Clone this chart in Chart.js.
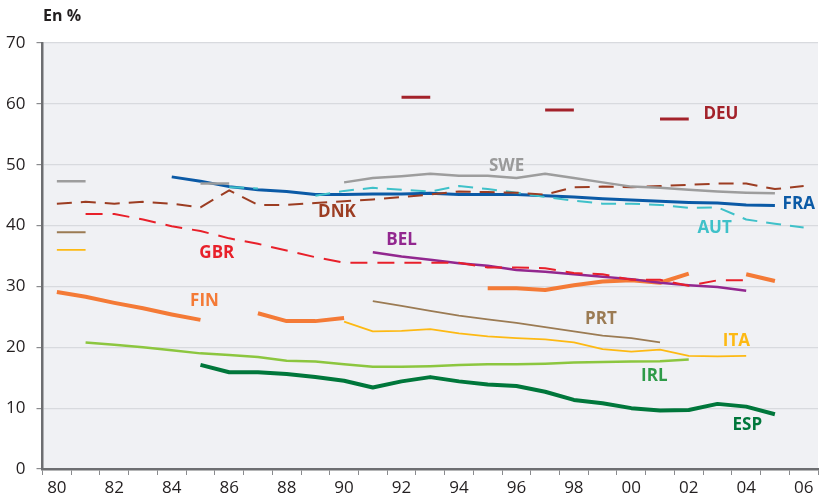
<!DOCTYPE html>
<html>
<head>
<meta charset="utf-8">
<script src="https://cdn.jsdelivr.net/npm/chart.js@4.4.1/dist/chart.umd.min.js"></script>
<style>
  html, body { margin: 0; padding: 0; background: #fff; }
  #wrap { width: 820px; height: 496px; }
</style>
</head>
<body>
<div id="wrap"><canvas id="chart" width="820" height="496"></canvas></div>
<script>
// années 1980-2006
var years = [];
for (var y = 1980; y <= 2006; y++) years.push(String(y).slice(2));

var yTicks = [0, 10, 20, 30, 40, 50, 60, 70];

// séries (null = pas de donnée)
var FIN = [29.1, 28.3, 27.3, 26.4, 25.4, 24.5, null, 25.6, 24.3, 24.3, 24.8, null, null, null, null, 29.7, 29.7, 29.4, 30.2, 30.8, 31.0, 30.6, 32.1, null, 32.0, 30.9, null];
var GBR = [null, 41.9, 41.9, 41.0, 39.9, 39.1, 37.9, 37.0, 35.9, 34.8, 33.9, 33.9, 33.9, 33.9, 33.9, 33.1, 33.1, 33.0, 32.2, 32.0, 31.1, 31.1, 30.1, 31.0, 31.0, null, null];
var DNK = [43.6, 43.9, 43.6, 43.9, 43.6, 43.0, 45.8, 43.4, 43.4, 43.7, 44.0, 44.3, 44.7, 45.1, 45.6, 45.5, 45.4, 45.1, 46.3, 46.4, 46.3, 46.5, 46.7, 46.9, 46.9, 46.0, 46.5];
var SWE = [47.3, 47.3, null, null, null, 46.9, 46.9, null, null, null, 47.1, 47.8, 48.1, 48.5, 48.2, 48.2, 47.8, 48.5, 47.8, 47.1, 46.4, 46.2, 45.9, 45.6, 45.4, 45.3, null];
var FRA = [null, null, null, null, 48.0, 47.3, 46.4, 45.9, 45.6, 45.1, 45.1, 45.2, 45.2, 45.3, 45.1, 45.1, 45.1, 44.9, 44.7, 44.4, 44.2, 44.0, 43.8, 43.7, 43.4, 43.3, null];
var AUT = [null, null, null, null, null, null, 46.3, 46.1, null, 44.9, 45.7, 46.2, 45.9, 45.6, 46.5, 46.0, 45.4, 44.7, 44.1, 43.6, 43.6, 43.4, 42.9, 43.0, 41.0, 40.3, 39.7];
var DEU = [null, null, null, null, null, null, null, null, null, null, null, null, 61.1, 61.1, null, null, null, 59.0, 59.0, null, null, 57.5, 57.5, null, null, null, null];
var BEL = [null, null, null, null, null, null, null, null, null, null, null, 35.6, 34.9, 34.4, 33.8, 33.4, 32.7, 32.4, 32.0, 31.6, 31.2, 30.6, 30.2, 29.9, 29.3, null, null];
var PRT = [38.9, 38.9, null, null, null, null, null, null, null, null, null, 27.6, 26.8, 26.0, 25.2, 24.6, 24.0, 23.3, 22.6, 21.9, 21.5, 20.8, null, null, null, null, null];
var ITA = [36.0, 36.0, null, null, null, null, null, null, null, null, 24.2, 22.6, 22.7, 23.0, 22.3, 21.8, 21.5, 21.3, 20.8, 19.7, 19.3, 19.6, 18.6, 18.5, 18.6, null, null];
var IRL = [null, 20.8, 20.4, 20.0, 19.5, 19.0, 18.75, 18.4, 17.8, 17.65, 17.2, 16.8, 16.8, 16.9, 17.1, 17.2, 17.2, 17.3, 17.5, 17.6, 17.65, 17.7, 18.0, null, null, null, null];
var ESP = [null, null, null, null, null, 17.1, 15.9, 15.9, 15.6, 15.1, 14.5, 13.4, 14.4, 15.1, 14.4, 13.9, 13.65, 12.7, 11.35, 10.8, 10.0, 9.6, 9.7, 10.7, 10.25, 9.0, null];

// étiquettes des pays : [texte, couleur, position x (index année), position y (valeur)]
var seriesLabels = [
  ['SWE', '#9a9a9a', 15.66, 49.8],
  ['DEU', '#a3222a', 23.12, 58.3],
  ['FRA', '#0b5aa6', 25.83, 43.6],
  ['AUT', '#3fc1c9', 22.9, 39.6],
  ['DNK', '#9c3d22', 9.75, 42.2],
  ['BEL', '#92278f', 12.0, 37.6],
  ['GBR', '#e8202a', 5.57, 35.5],
  ['FIN', '#f47a36', 5.14, 27.5],
  ['PRT', '#9b7b53', 18.94, 24.7],
  ['ITA', '#fdb913', 23.66, 21.0],
  ['IRL', '#2e9b48', 20.8, 15.3],
  ['ESP', '#00773b', 24.04, 7.2]
];

var FONT = '"Open Sans", "Noto Sans", sans-serif';

function ds(label, data, color, width, dash) {
  return {
    label: label,
    data: data,
    borderColor: color,
    backgroundColor: color,
    borderWidth: width,
    borderDash: dash || [],
    borderCapStyle: 'butt',
    borderJoinStyle: 'round',
    pointRadius: 0,
    pointHoverRadius: 0,
    tension: 0,
    spanGaps: false,
    fill: false
  };
}

// fond gris de la zone de tracé
var plotBg = {
  id: 'plotBg',
  beforeDraw: function(chart) {
    var a = chart.chartArea, ctx = chart.ctx;
    ctx.save();
    ctx.fillStyle = '#f0f1f4';
    ctx.fillRect(a.left, a.top, a.right - a.left, a.bottom - a.top);
    ctx.restore();
  }
};

// noms des pays et unité
var textLabels = {
  id: 'textLabels',
  afterDatasetsDraw: function(chart) {
    var ctx = chart.ctx, sx = chart.scales.x, sy = chart.scales.y;
    ctx.save();
    ctx.textAlign = 'center';
    ctx.textBaseline = 'middle';
    ctx.font = 'bold 17px ' + FONT;
    seriesLabels.forEach(function(l) {
      ctx.fillStyle = l[1];
      ctx.fillText(l[0], sx.getPixelForValue(l[2]), sy.getPixelForValue(l[3]));
    });
    ctx.textAlign = 'left';
    ctx.fillStyle = '#231f20';
    ctx.font = 'bold 16px ' + FONT;
    ctx.fillText('En %', 43, 16);
    ctx.restore();
  }
};

new Chart(document.getElementById('chart'), {
  type: 'line',
  data: {
    labels: years,
    datasets: [
      ds('SWE', SWE, '#9d9d9d', 2.5),
      ds('DNK', DNK, '#9c3d22', 2, [15, 9]),
      ds('AUT', AUT, '#3fc1c9', 2, [15, 9]),
      ds('FRA', FRA, '#0b5aa6', 3),
      ds('DEU', DEU, '#a3222a', 3),
      ds('GBR', GBR, '#e8202a', 2, [17, 10]),
      ds('BEL', BEL, '#92278f', 2.5),
      ds('FIN', FIN, '#f47a36', 4),
      ds('PRT', PRT, '#9b7b53', 1.8),
      ds('ITA', ITA, '#fdb913', 1.8),
      ds('IRL', IRL, '#8cc63f', 2.5),
      ds('ESP', ESP, '#00773b', 4)
    ]
  },
  options: {
    responsive: false,
    animation: false,
    layout: { padding: { top: 43, right: 2, left: 0, bottom: 0 } },
    plugins: {
      legend: { display: false },
      tooltip: { enabled: false }
    },
    scales: {
      x: {
        type: 'category',
        offset: true,
        grid: {
          offset: true,
          drawOnChartArea: false,
          drawTicks: true,
          tickLength: 6,
          color: '#8a8b8e',
          lineWidth: 1
        },
        border: { color: '#6d6e71', width: 2.5 },
        ticks: {
          autoSkip: false,
          maxRotation: 0,
          padding: 3,
          color: '#231f20',
          font: { family: FONT, size: 17 },
          callback: function(v, i) { return i % 2 === 0 ? years[i] : ''; }
        },
        afterFit: function(s) { s.height = 27; }
      },
      y: {
        min: 0,
        max: 70,
        grid: {
          color: '#d8dade',
          lineWidth: 1.2,
          drawTicks: true,
          tickLength: 6,
          tickColor: '#8a8b8e'
        },
        border: { color: '#6d6e71', width: 2.5 },
        afterBuildTicks: function(s) {
          s.ticks = yTicks.map(function(v) { return { value: v }; });
        },
        ticks: {
          padding: 11,
          color: '#231f20',
          font: { family: FONT, size: 17 }
        },
        afterFit: function(s) { s.width = 42.5; }
      }
    }
  },
  plugins: [plotBg, textLabels]
});
</script>
</body>
</html>
